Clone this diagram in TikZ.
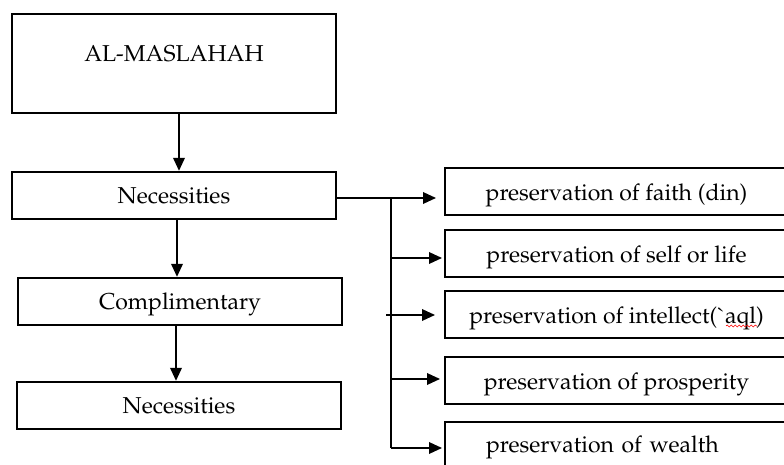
\documentclass[tikz,border=0pt]{standalone}
\usepackage[T1]{fontenc}
\usepackage{mathpazo}
\usepackage{tikz}
\usetikzlibrary{arrows.meta,decorations.pathmorphing}
\tikzset{%
	box/.style={draw,line width=1.2pt,rectangle,minimum width=162pt,minimum height=23.5pt,
		text height=9pt,text depth=1pt,font=\fontsize{11.5}{14}\selectfont},
	pbox/.style={draw,line width=1pt,rectangle,minimum width=171.5pt,minimum height=23.5pt,
		text height=10pt,text depth=1pt,font=\fontsize{11.5}{14}\selectfont},
	arr/.style={line width=0.9pt,-{Triangle[length=6.5pt,width=5.8pt]}}
}
\begin{document}
\begin{tikzpicture}[x=0.5pt,y=-0.5pt]
				\clip (0,0) rectangle (784,465);
				\node [box, minimum height=49.5pt, text depth=10.5pt] (mas) at (174, 63.5) {AL-MASLAHAH};
				\node [box] (nec) at (174, 195.5) {Necessities};
				\node [box] (comp) at (180, 301.5) {Complimentary};
				\node [box] (necb) at (179, 405.5) {Necessities};
				\node [pbox] (faith) at (616.5, 191.5) {preservation of faith (din)};
				\node [pbox] (self) at (616.5, 254) {preservation of self or life};
				\node [pbox] (intellect) at (616.5, 314.5) {preservation of intellect(\`{}aql)};
				\node [pbox] (prosperity) at (616.5, 380.5) {preservation of prosperity};
				\node [pbox, text height=8pt, inner xsep=20.5pt, text width=130.5pt, align=left] (wealth) at (616.5, 445.5) {preservation of wealth};
				\coordinate (trunk) at (391, 198);
				\draw [arr] (mas.south -| 179,0) -- (nec.north -| 179,0);
				\draw [arr] (nec.south -| 177,0) -- (comp.north -| 177,0);
				\draw [arr] (comp.south -| 176,0) -- (necb.north -| 176,0);
				\draw [arr, line width=0.8pt, shorten >=4pt] (nec.east |- trunk) -- (trunk -| faith.west);
				\draw [line width=0.8pt] (trunk) -- (trunk |- 0,448);
				\draw [arr, line width=0.8pt, shorten >=1pt] (trunk |- 0,258) -- (self.west |- 0,258);
				\draw [arr, line width=0.8pt, shorten >=4.5pt] (386,315) -- (intellect.west |- 0,315);
				\draw [arr, line width=0.8pt, shorten >=2pt] (trunk |- 0,379) -- (prosperity.west |- 0,379);
				\draw [arr, line width=0.8pt, shorten >=1pt] (trunk |- 0,448) -- (wealth.west |- 0,448);
				\draw [red, line width=0.3pt, decorate, decoration={snake, amplitude=0.5pt, segment length=2pt}] (726,326) -- (757,326);
			\end{tikzpicture}
\end{document}
